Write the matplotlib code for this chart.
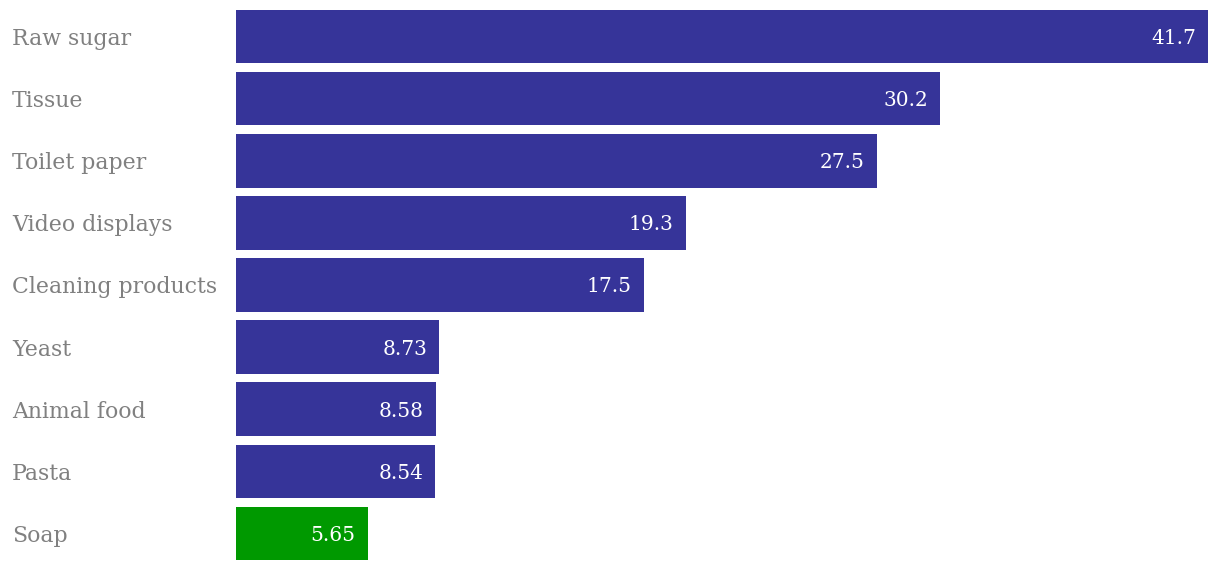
import matplotlib.pyplot as plt
from matplotlib.transforms import blended_transform_factory

categories = ["Raw sugar", "Tissue", "Toilet paper", "Video displays", "Cleaning products",
              "Yeast", "Animal food", "Pasta", "Soap"]
values     = [41.7, 30.2, 27.5, 19.3, 17.5, 8.73, 8.58, 8.54, 5.65]
labels     = ["41.7", "30.2", "27.5", "19.3", "17.5", "8.73", "8.58", "8.54", "5.65"]
colors     = ["#363499"] * 8 + ["#009900"]

plt.rcParams["font.family"] = ["DejaVu Serif"]

fig = plt.figure(figsize=(12.2, 5.7), dpi=100)
ax = fig.add_axes([236 / 1220, 10 / 570, 972 / 1220, 550 / 570])

ypos = range(len(categories))
ax.barh(ypos, values, height=0.86, color=colors)
ax.set_xlim(0, max(values))
ax.set_ylim(len(categories) - 0.57, -0.43)
ax.axis("off")

lab_tr = blended_transform_factory(fig.transFigure, ax.transData)
for i, (cat, v, s) in enumerate(zip(categories, values, labels)):
    ax.text(12 / 1220, i, cat, transform=lab_tr, ha="left", va="center_baseline",
            fontsize=15.8, color="#808080")
    ax.annotate(s, (v, i), xytext=(-12, 0), textcoords="offset pixels",
                ha="right", va="center_baseline", fontsize=14.5, color="white")

fig.savefig("out.png", dpi=100)
